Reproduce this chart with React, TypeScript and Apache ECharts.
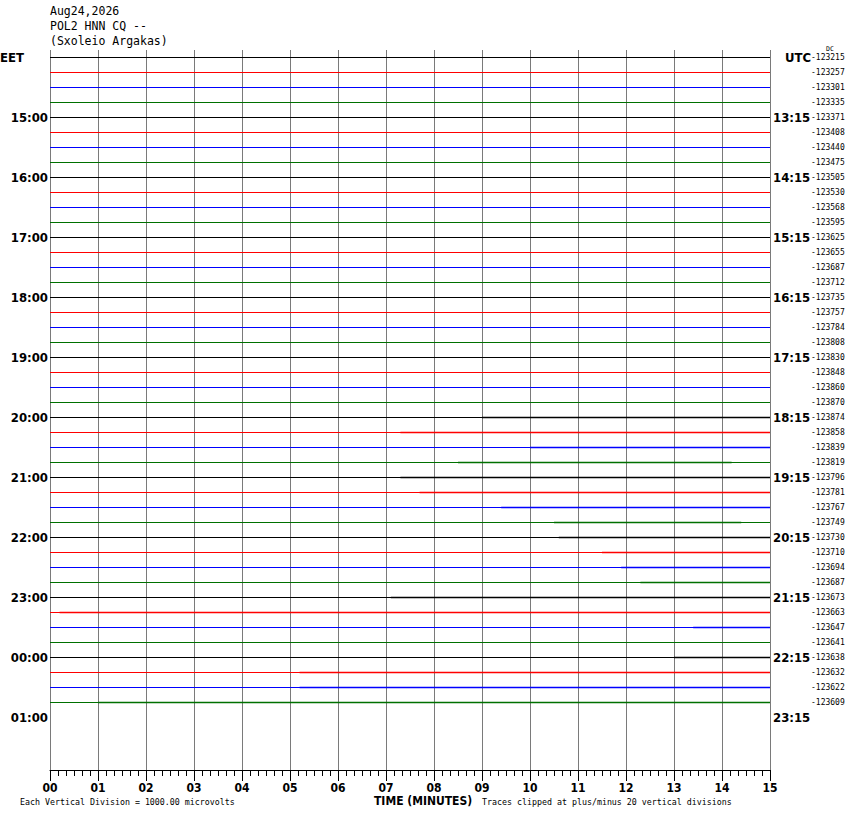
import React, { useEffect, useRef } from "react";
import * as echarts from "echarts";

// ---- data ----
const titleLines = ["Aug24,2026", "POL2 HNN CQ --", "(Sxoleio Argakas)"];
const minuteRange = [0, 15];
const traceColors = ["#000000", "#ff0000", "#0000ff", "#007000"];
const dcOffsets = [
  -123215, -123257, -123301, -123335, -123371, -123408, -123440, -123475,
  -123505, -123530, -123568, -123595, -123625, -123655, -123687, -123712,
  -123735, -123757, -123784, -123808, -123830, -123848, -123860, -123870,
  -123874, -123858, -123839, -123819, -123796, -123781, -123767, -123749,
  -123730, -123710, -123694, -123687, -123673, -123663, -123647, -123641,
  -123638, -123632, -123622, -123609,
];
const eetHourLabels = ["EET", "15:00", "16:00", "17:00", "18:00", "19:00", "20:00", "21:00", "22:00", "23:00", "00:00", "01:00"];
const utcHourLabels = ["UTC", "13:15", "14:15", "15:15", "16:15", "17:15", "18:15", "19:15", "20:15", "21:15", "22:15", "23:15"];
// stretches where a trace looks thicker because of noise: [row, fromMinute, toMinute]
const noisySegments: number[][] = [
  [24, 9.0, 15], [25, 7.3, 15], [26, 10.0, 15], [27, 8.5, 14.2],
  [28, 7.3, 15], [29, 7.7, 15], [30, 9.4, 15], [31, 10.5, 14.4],
  [32, 10.6, 15], [33, 11.5, 15], [34, 11.9, 15], [35, 12.3, 15],
  [36, 7.1, 15], [37, 0.2, 15], [38, 13.4, 15], [40, 13.0, 15],
  [41, 5.2, 15], [42, 5.2, 15], [43, 1.0, 15],
];
const ROWS = 48;
const ROWS_PER_HOUR = 4;

const rowCats = Array.from({ length: ROWS }, (_, i) => String(i));

function hourLabel(list: string[], idx: number): string {
  if (idx % ROWS_PER_HOUR !== 0) return "";
  return list[idx / ROWS_PER_HOUR] ?? "";
}

export default function App() {
  const ref = useRef<HTMLDivElement>(null);
  useEffect(() => {
    if (!ref.current) return;
    const chart = echarts.init(ref.current, null, { renderer: "svg" });
    const hourFont = {
      fontFamily: "DejaVu Sans Condensed",
      fontWeight: "bold" as const,
      fontSize: 13,
      color: "#000",
    };
    const traceSeries = dcOffsets.map((_, i) => ({
      type: "line" as const,
      yAxisIndex: 0,
      data: [
        [minuteRange[0], i],
        [minuteRange[1], i],
      ],
      symbol: "none",
      silent: true,
      lineStyle: { color: traceColors[i % traceColors.length], width: 1 },
    }));
    const noisySeries = noisySegments.map(([row, a, b]) => ({
      type: "line" as const,
      yAxisIndex: 0,
      data: [
        [a, row],
        [b, row],
      ],
      symbol: "none",
      silent: true,
      lineStyle: { color: traceColors[row % traceColors.length], width: 1.7 },
    }));
    const yBase = {
      type: "category" as const,
      data: rowCats,
      inverse: true,
      axisLine: { show: false },
      axisTick: { show: false },
      splitLine: { show: false },
    };
    chart.setOption({
      animation: false,
      backgroundColor: "#ffffff",
      grid: { left: 50, right: 80, top: 50, bottom: 44, containLabel: false, outerBoundsMode: "none" },
      xAxis: {
        type: "value",
        min: minuteRange[0],
        max: minuteRange[1],
        interval: 1,
        axisLine: { show: true, lineStyle: { color: "#000", width: 1 } },
        axisTick: { show: true, length: 11, lineStyle: { color: "#000" } },
        minorTick: { show: true, splitNumber: 6, length: 6, lineStyle: { color: "#000" } },
        splitLine: { show: true, lineStyle: { color: "#7a7a7a", width: 1 } },
        axisLabel: {
          margin: 12,
          fontFamily: "DejaVu Sans Condensed",
          fontWeight: "bold",
          fontSize: 12,
          color: "#000",
          formatter: (v: number) => String(v).padStart(2, "0"),
        },
      },
      yAxis: [
        {
          ...yBase,
          position: "left",
          axisLabel: {
            interval: 0,
            margin: 2,
            ...hourFont,
            formatter: (_: string, idx: number) => {
              const t = hourLabel(eetHourLabels, idx);
              return idx === 0 ? `{e|${t}}` : t;
            },
            rich: { e: { ...hourFont, padding: [0, 24, 0, 0] } },
          },
        },
        {
          ...yBase,
          position: "right",
          axisLabel: {
            interval: 0,
            margin: 3,
            ...hourFont,
            formatter: (_: string, idx: number) => {
              const t = hourLabel(utcHourLabels, idx);
              return idx === 0 ? `{u|${t}}` : t;
            },
            rich: { u: { ...hourFont, padding: [0, 0, 0, 12] } },
          },
        },
        {
          ...yBase,
          position: "right",
          offset: 40,
          axisLabel: {
            interval: 0,
            margin: 1,
            fontFamily: "DejaVu Sans Mono",
            fontSize: 8,
            color: "#000",
            formatter: (_: string, idx: number) =>
              idx < dcOffsets.length ? String(dcOffsets[idx]) : "",
          },
        },
      ],
      series: [...traceSeries, ...noisySeries],
      graphic: [
        ...titleLines.map((t, i) => ({
          type: "text",
          left: 50,
          top: 5 + i * 15,
          style: {
            text: t,
            fontFamily: "DejaVu Sans Mono",
            fontSize: 11.5,
            fill: "#000",
          },
        })),
        {
          type: "text",
          left: 826,
          top: 45,
          style: { text: "DC", fontFamily: "DejaVu Sans Mono", fontSize: 6.5, fill: "#000" },
        },
        {
          type: "text",
          left: 374,
          top: 795,
          style: {
            text: "TIME (MINUTES)",
            fontFamily: "DejaVu Sans Condensed",
            fontWeight: "bold",
            fontSize: 12,
            fill: "#000",
          },
        },
        {
          type: "text",
          left: 20,
          top: 798,
          style: {
            text: "Each Vertical Division = 1000.00 microvolts",
            fontFamily: "DejaVu Sans Mono",
            fontSize: 8.3,
            fill: "#000",
          },
        },
        {
          type: "text",
          left: 482,
          top: 798,
          style: {
            text: "Traces clipped at plus/minus 20 vertical divisions",
            fontFamily: "DejaVu Sans Mono",
            fontSize: 8.3,
            fill: "#000",
          },
        },
      ],
    });
    return () => chart.dispose();
  }, []);
  return (
    <div
      ref={ref}
      style={{ position: "absolute", left: 0, top: 0, width: 850, height: 814, background: "#fff" }}
    />
  );
}
